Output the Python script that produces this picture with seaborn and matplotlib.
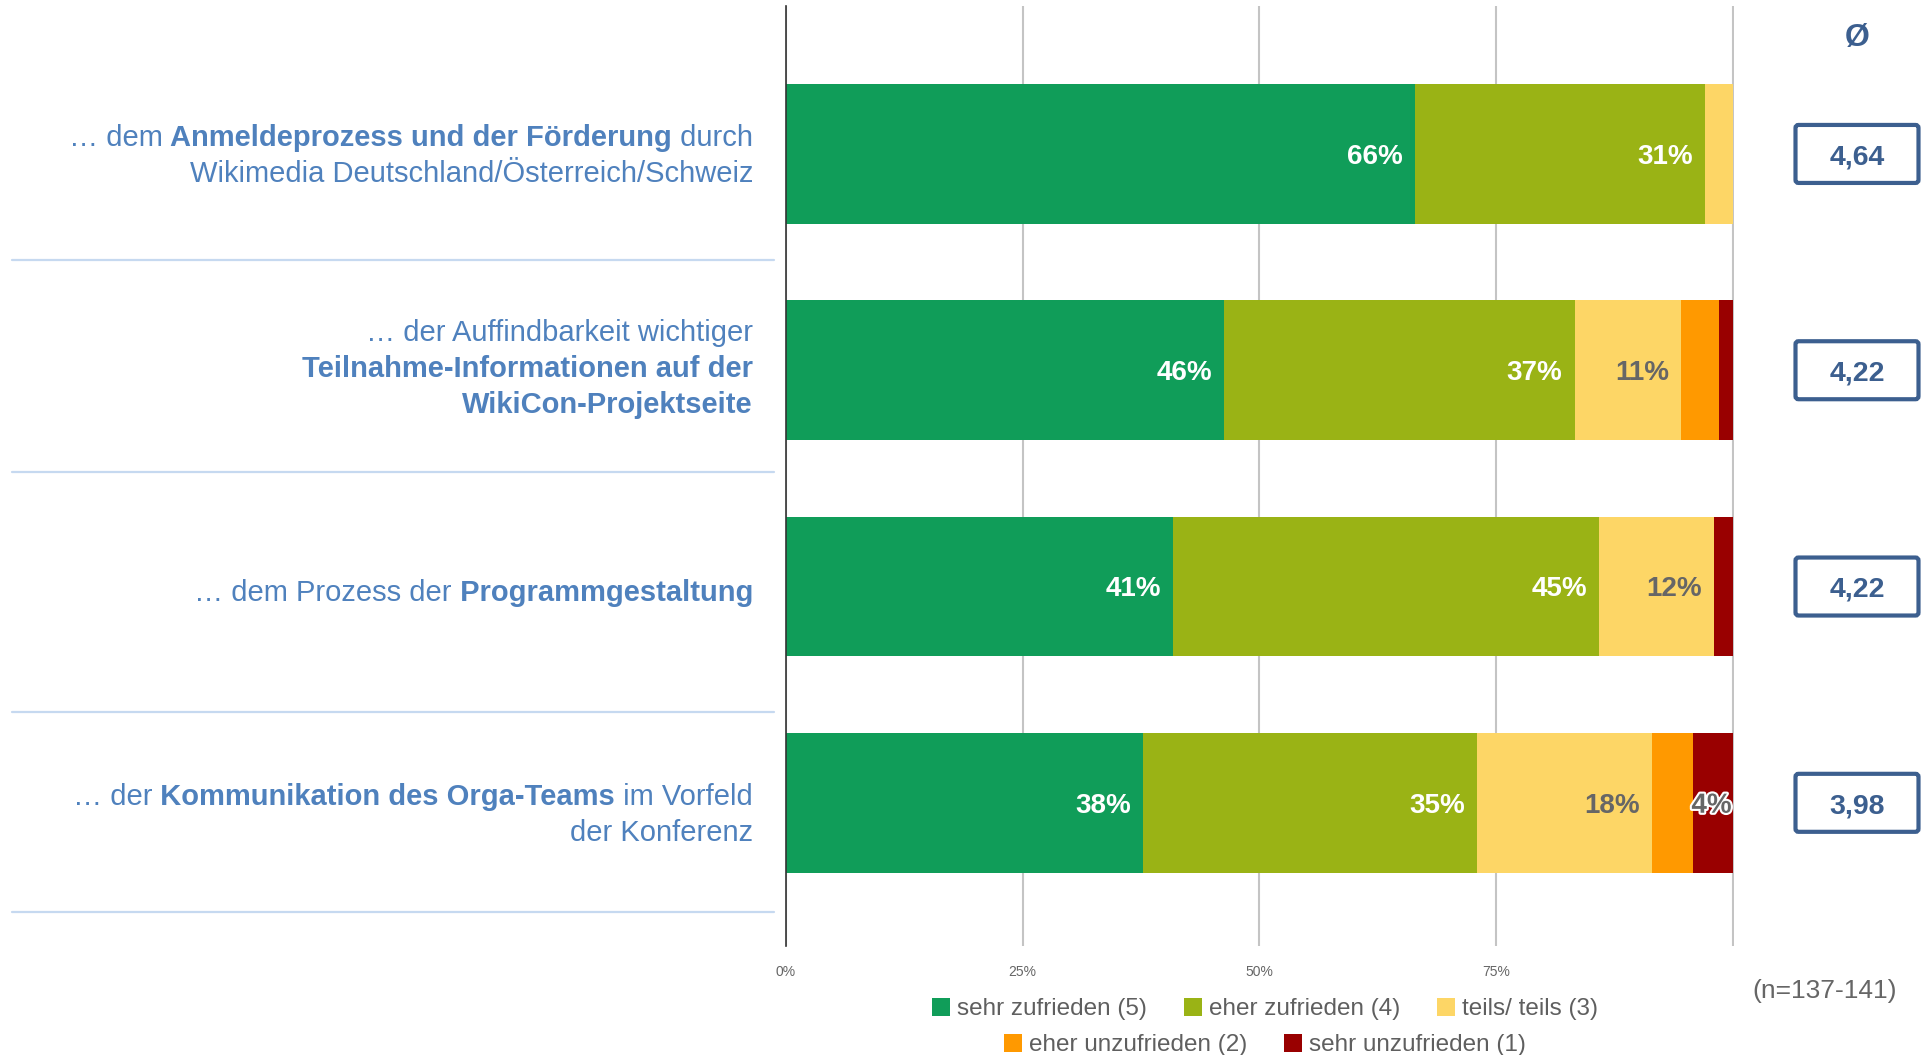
import matplotlib
matplotlib.use("Agg")
import matplotlib.pyplot as plt
import seaborn as sns
import numpy as np
from matplotlib.patches import FancyBboxPatch, Patch
from matplotlib.lines import Line2D
from matplotlib.transforms import IdentityTransform
import matplotlib.patheffects as pe

# ---------------- data ----------------
categories = ["Anmeldeprozess", "Auffindbarkeit", "Programmgestaltung", "Kommunikation"]
levels = ["sehr zufrieden (5)", "eher zufrieden (4)", "teils/ teils (3)",
          "eher unzufrieden (2)", "sehr unzufrieden (1)"]
sehr_zufrieden = [66.4, 46.3, 40.9, 37.7]
eher_zufrieden = [30.7, 37.0, 45.0, 35.3]
teils_teils = [2.9, 11.3, 12.1, 18.5]
eher_unzufrieden = [0.0, 4.0, 0.0, 4.3]
sehr_unzufrieden = [0.0, 1.4, 2.0, 4.2]
segment_labels = [["66%", "31%", "", "", ""],
                  ["46%", "37%", "11%", "", ""],
                  ["41%", "45%", "12%", "", ""],
                  ["38%", "35%", "18%", "", "4%"]]
averages = ["4,64", "4,22", "4,22", "3,98"]
tick_values = [0, 25, 50, 75, 100]
tick_labels = ["0%", "25%", "50%", "75%", ""]
row_labels = [
    [[("… dem", False), (" Anmeldeprozess und der Förderung", True), (" durch", False)],
     [("Wikimedia Deutschland/Österreich/Schweiz", False)]],
    [[("… der Auffindbarkeit wichtiger", False)],
     [("Teilnahme-Informationen auf der", True)],
     [("WikiCon-Projektseite", True)]],
    [[("… dem Prozess der", False), (" Programmgestaltung", True)]],
    [[("… der", False), (" Kommunikation des Orga-Teams", True), (" im Vorfeld", False)],
     [("der Konferenz", False)]],
]
n_text = "(n=137-141)"
avg_header = "Ø"

# ---------------- style ----------------
colors = ["#109d59", "#9ab315", "#fdd666", "#ff9900", "#990000"]
label_blue = "#4f81bd"
box_blue = "#3c5f8f"
grey = "#666666"

sns.set_style("white")
plt.rcParams["font.family"] = ["Liberation Sans", "DejaVu Sans"]

W, H = 1927, 1055
fig = plt.figure(figsize=(W / 100, H / 100), dpi=100)
ax = fig.add_axes([786 / W, 109 / H, 948 / W, 940 / H])

values = np.array([sehr_zufrieden, eher_zufrieden, teils_teils,
                   eher_unzufrieden, sehr_unzufrieden])
cum = np.cumsum(values, axis=0)
bar_h = 0.647
for k in reversed(range(len(levels))):
    sns.barplot(x=cum[k], y=categories, orient="h", color=colors[k],
                saturation=1, width=bar_h, linewidth=0, edgecolor="none", ax=ax)

ax.set_xlim(0, 100.15)
ax.set_ylim(3.662, -0.684)
ax.set_xlabel("")
ax.set_ylabel("")
ax.set_yticks([])
ax.set_xticks(tick_values, tick_labels)
ax.tick_params(axis="x", length=0, pad=14, labelsize=10, labelcolor=grey)
ax.grid(axis="x", color="#c4c4c4", lw=1.5)
ax.set_axisbelow(True)
for s in ["top", "right", "bottom"]:
    ax.spines[s].set_visible(False)
ax.spines["left"].set_color("#333333")
ax.spines["left"].set_linewidth(1.2)

# segment labels
pt_lbl = 20
cap_lbl = 0.716 * pt_lbl * 100 / 72
for i in range(len(categories)):
    for k in range(len(levels)):
        txt = segment_labels[i][k]
        if not txt:
            continue
        off = 12 if values[k][i] >= 8 else 1
        col = "white" if k < 2 else grey
        t = ax.annotate(txt, xy=(cum[k][i], i), xytext=(-off, -cap_lbl / 2),
                        textcoords="offset pixels", ha="right", va="baseline",
                        fontsize=pt_lbl, fontweight="bold", color=col)
        if k == 4:
            t.set_path_effects([pe.withStroke(linewidth=3, foreground="white")])

fig.canvas.draw()
renderer = fig.canvas.get_renderer()


def center_px(i):
    return H - ax.transData.transform((0, i))[1]


# left row labels
pt_row = 21
cap_row = 0.716 * pt_row * 100 / 72
label_offsets = [0, -4, 4, 10]
line_gap = 36
label_right = 753
for i, lines in enumerate(row_labels):
    yc = center_px(i) + label_offsets[i]
    n = len(lines)
    for j, pieces in enumerate(lines):
        ymid = yc + (j - (n - 1) / 2) * line_gap
        ybase = ymid + cap_row / 2
        xr = label_right
        for text, bold in reversed(pieces):
            t = fig.text(xr / W, 1 - ybase / H, text, ha="right", va="baseline",
                         fontsize=pt_row, fontweight="bold" if bold else "normal",
                         color=label_blue)
            xr -= t.get_window_extent(renderer).width

# separators
for y in [260, 472, 712, 912]:
    fig.add_artist(Line2D([12 / W, 774 / W], [1 - y / H] * 2, transform=fig.transFigure,
                          color="#c6d9f0", lw=1.6))

# average boxes
pt_avg = 20.5
cap_avg = 0.716 * pt_avg * 100 / 72
box_cx, box_w, box_hh = 1857, 123, 58
for i, a in enumerate(averages):
    yc = center_px(i)
    patch = FancyBboxPatch((box_cx - box_w / 2, H - yc - box_hh / 2), box_w, box_hh,
                           boxstyle="round,pad=0,rounding_size=3",
                           transform=IdentityTransform(), facecolor="white",
                           edgecolor=box_blue, linewidth=3)
    fig.add_artist(patch)
    fig.text(box_cx / W, 1 - (yc + cap_avg / 2) / H, a, ha="center", va="baseline",
             fontsize=pt_avg, fontweight="bold", color=box_blue)

fig.text(1857 / W, 1 - 46 / H, avg_header, ha="center", va="baseline",
         fontsize=23, fontweight="bold", color=box_blue)

fig.text(1825 / W, 1 - 998 / H, n_text, ha="center", va="baseline",
         fontsize=19, color=grey)

# legend (two centered rows)
handles = [Patch(facecolor=c, edgecolor="none") for c in colors]
leg_kw = dict(frameon=False, fontsize=17.5, handlelength=0.75, handleheight=0.75,
              handletextpad=0.3, columnspacing=1.5, labelcolor="#5f5f5f",
              borderpad=0, borderaxespad=0, loc="center", bbox_transform=fig.transFigure)
leg1 = ax.legend(handles[:3], levels[:3], ncol=3,
                 bbox_to_anchor=(1265 / W, 1 - 1009 / H), **leg_kw)
ax.add_artist(leg1)
leg2 = ax.legend(handles[3:], levels[3:], ncol=2,
                 bbox_to_anchor=(1265 / W, 1 - 1045 / H), **leg_kw)

fig.savefig("out.png", dpi=100)
